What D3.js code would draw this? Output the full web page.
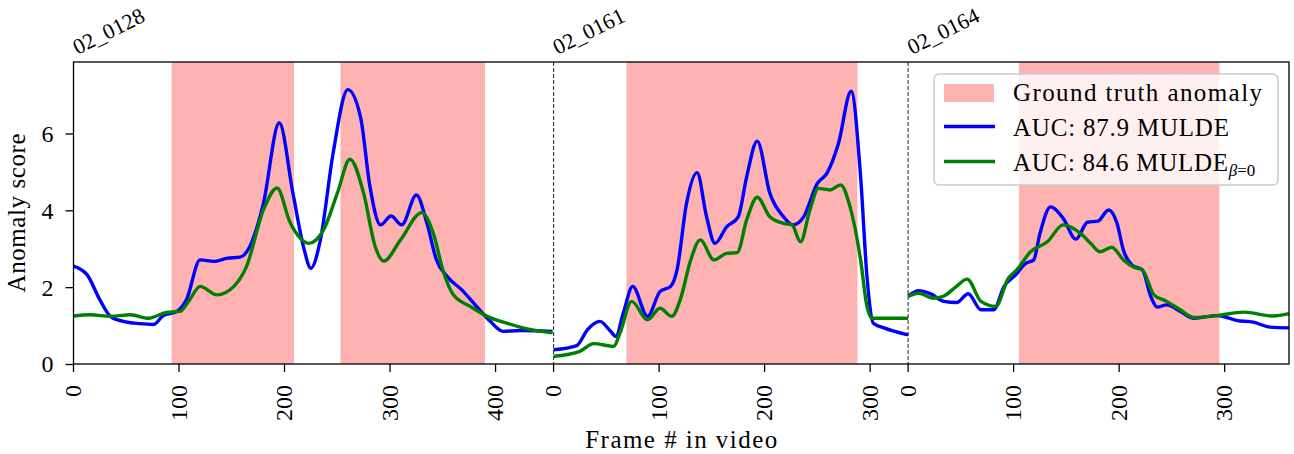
<!DOCTYPE html>
<html>
<head>
<meta charset="utf-8">
<script src="https://cdn.jsdelivr.net/npm/d3@7"></script>
<style>
  body { margin: 0; background: #fff; }
  text { font-family: "Liberation Serif", serif; fill: #000; }
</style>
</head>
<body>
<div id="chart"></div>
<script>
// videos shown one after another on one frame axis
var videos = ["02_0128", "02_0161", "02_0164"];
var videoLengths = [455, 336, 361];
var frameTicks = [[0, 100, 200, 300, 400], [0, 100, 200, 300], [0, 100, 200, 300]];
var scoreTicks = [0, 2, 4, 6];

// ground truth anomaly intervals (frames, per video)
var anomaly_0128 = [[93, 209], [253, 390]];
var anomaly_0161 = [[69, 288]];
var anomaly_0164 = [[105, 295]];

// MULDE scores [frame, score]
var mulde_0128 = [[0, 2.55], [13, 2.32], [25, 1.67], [35, 1.24], [47, 1.11], [63, 1.05], [76, 1.03], [85, 1.26], [98, 1.37], [107, 1.67], [120, 2.71], [133, 2.67], [145, 2.75], [158, 2.78], [167, 3.05], [180, 4.18], [195, 6.28], [208, 4.44], [218, 3.05], [225, 2.49], [234, 3.23], [246, 5.48], [260, 7.14], [272, 6.43], [281, 4.61], [291, 3.62], [301, 3.85], [311, 3.62], [325, 4.40], [335, 3.66], [344, 2.71], [354, 2.28], [368, 1.93], [382, 1.50], [395, 1.11], [407, 0.85], [423, 0.87], [454, 0.85]];
var mulde_0161 = [[0, 0.37], [22, 0.48], [32, 0.89], [44, 1.11], [54, 0.85], [59, 0.72], [66, 1.32], [75, 2.02], [89, 1.24], [101, 1.89], [111, 2.02], [117, 2.45], [126, 4.18], [136, 4.98], [145, 3.83], [153, 3.14], [164, 3.57], [175, 3.83], [183, 4.87], [193, 5.80], [205, 4.44], [218, 3.83], [227, 3.62], [237, 3.83], [250, 4.70], [259, 4.96], [270, 5.74], [282, 7.10], [291, 4.87], [297, 2.28], [303, 1.06], [313, 0.94], [336, 0.76]];
var mulde_0164 = [[0, 1.77], [10, 1.91], [21, 1.83], [34, 1.63], [46, 1.60], [57, 1.83], [69, 1.41], [81, 1.41], [91, 2.02], [102, 2.32], [111, 2.61], [119, 2.71], [125, 3.40], [135, 4.09], [147, 3.79], [159, 3.25], [170, 3.69], [180, 3.72], [190, 4.01], [198, 3.66], [204, 2.97], [212, 2.58], [222, 2.45], [230, 1.76], [236, 1.48], [245, 1.54], [258, 1.37], [271, 1.19], [293, 1.26], [312, 1.13], [327, 1.09], [343, 0.96], [361, 0.94]];

// MULDE beta=0 scores [frame, score]
var muldeB0_0128 = [[0, 1.25], [16, 1.28], [35, 1.24], [54, 1.28], [71, 1.19], [88, 1.34], [101, 1.37], [110, 1.67], [120, 2.02], [136, 1.80], [152, 2.02], [164, 2.54], [180, 4.01], [193, 4.58], [205, 3.70], [214, 3.30], [223, 3.14], [237, 3.49], [250, 4.44], [262, 5.33], [275, 4.44], [286, 3.05], [294, 2.68], [310, 3.23], [330, 3.94], [341, 3.40], [351, 2.36], [360, 1.80], [376, 1.50], [392, 1.24], [411, 1.06], [426, 0.94], [454, 0.81]];
var muldeB0_0161 = [[0, 0.20], [25, 0.33], [38, 0.53], [57, 0.46], [63, 0.81], [74, 1.63], [89, 1.15], [101, 1.45], [112, 1.24], [120, 1.67], [130, 2.71], [139, 3.23], [152, 2.71], [164, 2.88], [174, 2.90], [183, 3.75], [193, 4.34], [205, 3.83], [218, 3.66], [226, 3.62], [234, 3.18], [243, 4.01], [251, 4.57], [262, 4.53], [272, 4.66], [281, 4.09], [291, 2.71], [297, 1.50], [302, 1.19], [336, 1.19]];
var muldeB0_0164 = [[0, 1.76], [10, 1.84], [24, 1.71], [34, 1.77], [45, 2.00], [56, 2.21], [69, 1.63], [83, 1.50], [95, 2.23], [103, 2.45], [116, 2.92], [132, 3.18], [147, 3.62], [165, 3.36], [173, 3.14], [182, 2.92], [193, 3.04], [204, 2.71], [214, 2.52], [222, 2.45], [233, 1.80], [245, 1.63], [258, 1.41], [271, 1.21], [293, 1.26], [318, 1.35], [346, 1.25], [361, 1.31]];

var legendLabels = ["Ground truth anomaly", "AUC: 87.9 MULDE", "AUC: 84.6 MULDE"];

var anomalies = [anomaly_0128, anomaly_0161, anomaly_0164];
var mulde = [mulde_0128, mulde_0161, mulde_0164];
var muldeB0 = [muldeB0_0128, muldeB0_0161, muldeB0_0164];

// set the dimensions and margins of the graph
var margin = { top: 62, right: 5, bottom: 90, left: 73.5 },
    width = 1294 - margin.left - margin.right,
    height = 454 - margin.top - margin.bottom;

var offsets = [0];
for (i = 1; i < videoLengths.length; i++) {
    offsets.push(offsets[i - 1] + videoLengths[i - 1]);
}
var total = d3.sum(videoLengths);

var svg = d3.select("#chart")
    .append("svg")
    .attr("width", 1294)
    .attr("height", 454)
    .append("g")
    .attr("transform", "translate(" + margin.left + "," + margin.top + ")");

var x = d3.scaleLinear().domain([0, total]).range([0, width]);
var y = d3.scaleLinear().domain([0, 7.86]).range([height, 0]);

// anomaly spans
for (v = 0; v < videos.length; v++) {
    svg.append("g")
        .selectAll("rect")
        .data(anomalies[v])
        .enter()
        .append("rect")
        .attr("x", function (d) { return x(offsets[v] + d[0]) })
        .attr("width", function (d) { return x(offsets[v] + d[1]) - x(offsets[v] + d[0]) })
        .attr("y", 0)
        .attr("height", height)
        .attr("fill", "red")
        .attr("fill-opacity", 0.3)
}

// video separators
svg.append("g")
    .selectAll("line")
    .data(offsets.slice(1))
    .enter()
    .append("line")
    .attr("x1", function (d) { return x(d) })
    .attr("x2", function (d) { return x(d) })
    .attr("y1", 0)
    .attr("y2", height)
    .attr("stroke", "#333")
    .attr("stroke-width", 1.1)
    .attr("stroke-dasharray", "4,2")

// the lines
var line = d3.line()
    .curve(d3.curveMonotoneX)
    .x(function (d) { return x(d[0]) })
    .y(function (d) { return y(d[1]) })

function shift(arr, v) {
    return arr.map(function (d) { return [offsets[v] + d[0], d[1]] })
}

for (v = 0; v < videos.length; v++) {
    svg.append("path")
        .attr("fill", "none")
        .attr("stroke", "#0000ff")
        .attr("stroke-width", 3.4)
        .attr("d", line(shift(mulde[v], v)))
    svg.append("path")
        .attr("fill", "none")
        .attr("stroke", "#008000")
        .attr("stroke-width", 3.4)
        .attr("d", line(shift(muldeB0[v], v)))
}

// Y axis
var yAxis = svg.append("g")
    .call(d3.axisLeft(y).tickValues(scoreTicks).tickSize(8).tickPadding(12).tickFormat(d3.format("d")))
yAxis.select(".domain").remove()
yAxis.selectAll("line").attr("stroke-width", 1.3)
yAxis.selectAll("text")
    .style("font-family", "Liberation Serif")
    .style("font-size", "24px")
    .attr("dy", "0.33em")

// X ticks, per video
var allTicks = [];
for (v = 0; v < videos.length; v++) {
    frameTicks[v].forEach(function (t) { allTicks.push({ pos: offsets[v] + t, label: t }) })
}
var xt = svg.append("g").attr("transform", "translate(0," + height + ")")
xt.selectAll("line")
    .data(allTicks)
    .enter()
    .append("line")
    .attr("x1", function (d) { return x(d.pos) })
    .attr("x2", function (d) { return x(d.pos) })
    .attr("y1", 0)
    .attr("y2", 8)
    .attr("stroke", "#000")
    .attr("stroke-width", 1.3)
xt.selectAll("text")
    .data(allTicks)
    .enter()
    .append("text")
    .attr("transform", function (d) { return "translate(" + x(d.pos) + ",21) rotate(-90)" })
    .attr("text-anchor", "end")
    .attr("dy", "0.32em")
    .style("font-size", "24px")
    .text(function (d) { return d.label })

// video names on top
svg.append("g")
    .selectAll("text")
    .data(videos)
    .enter()
    .append("text")
    .attr("transform", function (d, i) { return "translate(" + (x(offsets[i]) + 4) + ",-7) rotate(-26.5)" })
    .style("font-size", "22px")
    .text(function (d) { return d })

// frame box
svg.append("rect")
    .attr("x", 0)
    .attr("y", 0)
    .attr("width", width)
    .attr("height", height)
    .attr("fill", "none")
    .attr("stroke", "#000")
    .attr("stroke-width", 1.3)

// axis labels
svg.append("text")
    .attr("x", width / 2)
    .attr("y", height + 84)
    .attr("text-anchor", "middle")
    .attr("textLength", 192)
    .attr("lengthAdjust", "spacing")
    .style("font-size", "25px")
    .text("Frame # in video")

svg.append("text")
    .attr("transform", "translate(" + (-48.5) + "," + (height / 2) + ") rotate(-90)")
    .attr("text-anchor", "middle")
    .attr("textLength", 159)
    .attr("lengthAdjust", "spacing")
    .style("font-size", "25px")
    .text("Anomaly score")

// legend
var lg = svg.append("g").attr("transform", "translate(" + (934 - margin.left) + "," + (74 - margin.top) + ")")
lg.append("rect")
    .attr("width", 344)
    .attr("height", 111)
    .attr("rx", 5)
    .attr("fill", "#fff")
    .attr("fill-opacity", 0.8)
    .attr("stroke", "#cccccc")
    .attr("stroke-width", 1.5)
lg.append("rect")
    .attr("x", 10)
    .attr("y", 10)
    .attr("width", 50)
    .attr("height", 18)
    .attr("fill", "red")
    .attr("fill-opacity", 0.3)
lg.append("line")
    .attr("x1", 10).attr("x2", 61).attr("y1", 52.5).attr("y2", 52.5)
    .attr("stroke", "#0000ff").attr("stroke-width", 3.4)
lg.append("line")
    .attr("x1", 10).attr("x2", 61).attr("y1", 87.5).attr("y2", 87.5)
    .attr("stroke", "#008000").attr("stroke-width", 3.4)
var legendWidths = [249, 216, 215];
lg.selectAll("text.lab")
    .data(legendLabels)
    .enter()
    .append("text")
    .attr("class", "lab")
    .attr("x", 79)
    .attr("y", function (d, i) { return 27 + i * 35 })
    .style("font-size", "25px")
    .append("tspan")
    .attr("textLength", function (d, i) { return legendWidths[i] })
    .attr("lengthAdjust", "spacing")
    .text(function (d) { return d })
var sub = lg.selectAll("text.lab").filter(function (d, i) { return i == 2 })
    .append("tspan")
    .attr("dy", 5)
    .style("font-size", "17px")
sub.append("tspan").style("font-style", "italic").text("β")
sub.append("tspan").text("=0")
</script>
</body>
</html>
